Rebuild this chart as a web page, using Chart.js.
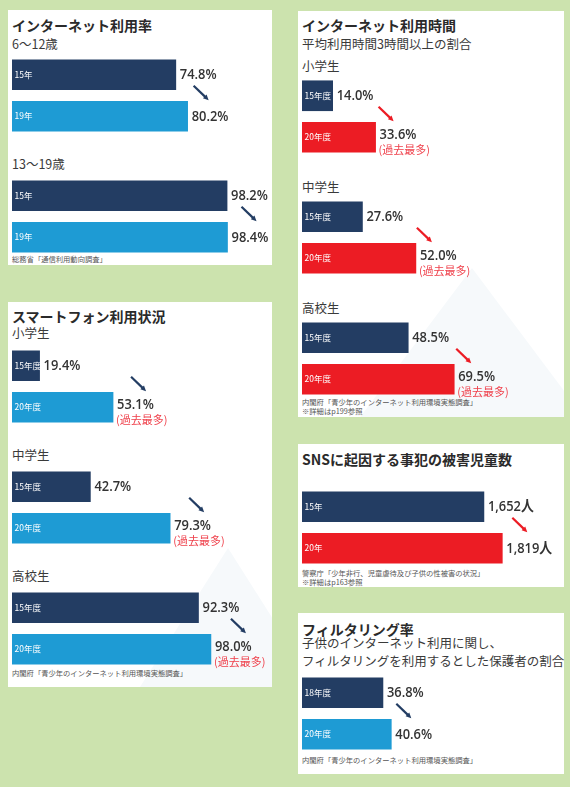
<!DOCTYPE html>
<html lang="ja">
<head>
<meta charset="utf-8">
<script src="https://cdn.jsdelivr.net/npm/chart.js@4"></script>
<style>
html, body { margin: 0; padding: 0; }
body { width: 570px; height: 787px; background: #cce3ae; position: relative; overflow: hidden;
  font-family: "Noto Sans CJK JP", sans-serif; color: #333; }
.panel { position: absolute; background: #fff; overflow: hidden; }
.mtn { position: absolute; background: #f6f9fb; clip-path: polygon(50% 0, 100% 100%, 0 100%); }
.t { position: absolute; white-space: nowrap; line-height: 1; }
.title { font-size: 14px; font-weight: bold; color: #2a2a2a; }
.head { font-size: 12.5px; color: #3a3a3a; }
.src { font-size: 7.3px; color: #555; }
canvas { position: absolute; }
</style>
</head>
<body>
<div class="panel" style="left:8px;top:10px;width:264px;height:255px;"></div>
<div class="panel" style="left:8px;top:302px;width:264px;height:385px;">
  <div class="mtn" style="left:125px;top:246px;width:190px;height:150px;"></div>
</div>
<div class="panel" style="left:298px;top:11px;width:266px;height:406px;">
  <div class="mtn" style="left:54px;top:257px;width:240px;height:160px;"></div>
</div>
<div class="panel" style="left:298px;top:444px;width:266px;height:143px;"></div>
<div class="panel" style="left:298px;top:613px;width:266px;height:161px;"></div>

<div class="t title" style="left:12px;top:18px;">インターネット利用率</div>
<div class="t head" style="left:12px;top:38px;">6〜12歳</div>
<div class="t head" style="left:12px;top:158px;">13〜19歳</div>
<div class="t src" style="left:12px;top:256px;">総務省「通信利用動向調査」</div>

<div class="t title" style="left:12px;top:309px;">スマートフォン利用状況</div>
<div class="t head" style="left:12px;top:327px;">小学生</div>
<div class="t head" style="left:12px;top:449px;">中学生</div>
<div class="t head" style="left:12px;top:570px;">高校生</div>
<div class="t src" style="left:12px;top:670px;">内閣府「青少年のインターネット利用環境実態調査」</div>

<div class="t title" style="left:302px;top:18px;">インターネット利用時間</div>
<div class="t head" style="left:302px;top:38px;">平均利用時間3時間以上の割合</div>
<div class="t head" style="left:302px;top:60px;">小学生</div>
<div class="t head" style="left:302px;top:181px;">中学生</div>
<div class="t head" style="left:302px;top:302px;">高校生</div>
<div class="t src" style="left:302px;top:399px;">内閣府「青少年のインターネット利用環境実態調査」</div>
<div class="t src" style="left:302px;top:408px;">※詳細はp199参照</div>

<div class="t title" style="left:302px;top:452px;">SNSに起因する事犯の被害児童数</div>
<div class="t src" style="left:302px;top:570px;">警察庁「少年非行、児童虐待及び子供の性被害の状況」</div>
<div class="t src" style="left:302px;top:579px;">※詳細はp163参照</div>

<div class="t title" style="left:302px;top:622px;">フィルタリング率</div>
<div class="t head" style="left:302px;top:637px;">子供のインターネット利用に関し、</div>
<div class="t head" style="left:302px;top:655px;">フィルタリングを利用するとした保護者の割合</div>
<div class="t src" style="left:302px;top:757px;">内閣府「青少年のインターネット利用環境実態調査」</div>

<canvas id="rateA" width="258" height="97" style="left:12px;top:54px;"></canvas>
<canvas id="rateB" width="258" height="97" style="left:12px;top:175px;"></canvas>
<canvas id="phoneA" width="258" height="97" style="left:12px;top:345px;"></canvas>
<canvas id="phoneB" width="258" height="97" style="left:12px;top:466px;"></canvas>
<canvas id="phoneC" width="258" height="97" style="left:12px;top:587px;"></canvas>
<canvas id="hoursA" width="260" height="97" style="left:302px;top:75px;"></canvas>
<canvas id="hoursB" width="260" height="97" style="left:302px;top:196px;"></canvas>
<canvas id="hoursC" width="260" height="97" style="left:302px;top:317px;"></canvas>
<canvas id="sns" width="260" height="97" style="left:302px;top:486px;"></canvas>
<canvas id="filter" width="260" height="97" style="left:302px;top:672px;"></canvas>

<script>
// データ
const rateYears = ['15年', '19年'];
const rateAge6to12 = [74.8, 80.2];
const rateAge13to19 = [98.2, 98.4];

const phoneYears = ['15年度', '20年度'];
const phoneElementary = [19.4, 53.1];
const phoneJunior = [42.7, 79.3];
const phoneHigh = [92.3, 98.0];

const hoursYears = ['15年度', '20年度'];
const hoursElementary = [14.0, 33.6];
const hoursJunior = [27.6, 52.0];
const hoursHigh = [48.5, 69.5];

const snsYears = ['15年', '20年'];
const snsVictims = [1652, 1819];

const filterYears = ['18年度', '20年度'];
const filterRate = [36.8, 40.6];

const recordNote = '(過去最多)';

const NAVY = '#233d63';
const BLUE = '#1e9bd4';
const RED = '#ec1c24';
const NOTE_RED = '#ef404b';
const FONT = '"Noto Sans CJK JP", sans-serif';

function drawArrow(ctx, x1, y1, x2, y2, color) {
  const ang = Math.atan2(y2 - y1, x2 - x1);
  const head = 6;
  ctx.save();
  ctx.strokeStyle = color;
  ctx.fillStyle = color;
  ctx.lineWidth = 2.2;
  ctx.beginPath();
  ctx.moveTo(x1, y1);
  ctx.lineTo(x2 - Math.cos(ang) * head * 0.8, y2 - Math.sin(ang) * head * 0.8);
  ctx.stroke();
  ctx.beginPath();
  ctx.moveTo(x2, y2);
  ctx.lineTo(x2 - head * Math.cos(ang - 0.45), y2 - head * Math.sin(ang - 0.45));
  ctx.lineTo(x2 - head * Math.cos(ang + 0.45), y2 - head * Math.sin(ang + 0.45));
  ctx.closePath();
  ctx.fill();
  ctx.restore();
}

// 棒の中の年ラベル、数値、(過去最多)、矢印
const barText = {
  id: 'barText',
  afterDatasetsDraw(chart, args, opts) {
    const ctx = chart.ctx;
    const bars = chart.getDatasetMeta(0).data;
    const values = chart.data.datasets[0].data;
    const pts = bars.map(b => b.getProps(['x', 'y', 'base', 'height'], true));
    const left = chart.chartArea.left;
    ctx.save();
    ctx.textBaseline = 'middle';
    ctx.textAlign = 'left';
    pts.forEach((p, i) => {
      ctx.fillStyle = '#fff';
      ctx.font = '8.5px ' + FONT;
      ctx.fillText(chart.data.labels[i], Math.max(p.base, left) + 2.5, p.y);
      const hasNote = opts.note && i === 1;
      const txt = opts.unit === '人'
        ? values[i].toLocaleString('en-US') + '人'
        : values[i].toFixed(1) + '%';
      // 数値は少し縦長に
      ctx.save();
      ctx.translate(p.x + 4, hasNote ? p.y - 2.5 : p.y);
      ctx.scale(0.86, 1);
      ctx.fillStyle = '#333';
      ctx.font = '600 15px "Open Sans", ' + FONT;
      ctx.fillText(txt, 0, 0);
      ctx.restore();
      if (hasNote) {
        ctx.fillStyle = NOTE_RED;
        ctx.font = '11px ' + FONT;
        ctx.fillText(recordNote, p.x + 3, p.y + 13);
      }
    });
    const a = pts[0], b = pts[1];
    const x0 = b.x + opts.arrowDx;
    drawArrow(ctx, x0, a.y + a.height / 2 - 4, x0 + 15, b.y - b.height / 2 - 1, opts.arrowColor);
    ctx.restore();
  }
};

function barPair(id, labels, values, colors, o) {
  return new Chart(document.getElementById(id), {
    type: 'bar',
    data: {
      labels: labels,
      datasets: [{ data: values, backgroundColor: colors, barThickness: 30, borderWidth: 0 }]
    },
    options: {
      indexAxis: 'y',
      responsive: false,
      animation: false,
      layout: { padding: { top: 0, bottom: 14, left: 0, right: 0 } },
      scales: {
        x: { display: false, min: o.min, max: o.max },
        y: { display: false }
      },
      plugins: { legend: { display: false }, tooltip: { enabled: false }, barText: o }
    },
    plugins: [barText]
  });
}

// インターネット利用率
barPair('rateA', rateYears, rateAge6to12, [NAVY, BLUE], { min: 0, max: 117.8, unit: '%', note: false, arrowColor: NAVY, arrowDx: 6 });
barPair('rateB', rateYears, rateAge13to19, [NAVY, BLUE], { min: 0, max: 117.8, unit: '%', note: false, arrowColor: NAVY, arrowDx: 14 });

// スマートフォン利用状況
barPair('phoneA', phoneYears, phoneElementary, [NAVY, BLUE], { min: 6.74, max: 125.1, unit: '%', note: true, arrowColor: NAVY, arrowDx: 18 });
barPair('phoneB', phoneYears, phoneJunior, [NAVY, BLUE], { min: 6.74, max: 125.1, unit: '%', note: true, arrowColor: NAVY, arrowDx: 19 });
barPair('phoneC', phoneYears, phoneHigh, [NAVY, BLUE], { min: 6.74, max: 125.1, unit: '%', note: true, arrowColor: NAVY, arrowDx: 20 });

// インターネット利用時間
barPair('hoursA', hoursYears, hoursElementary, [NAVY, RED], { min: 0, max: 118.7, unit: '%', note: true, arrowColor: RED, arrowDx: 3 });
barPair('hoursB', hoursYears, hoursJunior, [NAVY, RED], { min: 0, max: 118.7, unit: '%', note: true, arrowColor: RED, arrowDx: 1 });
barPair('hoursC', hoursYears, hoursHigh, [NAVY, RED], { min: 0, max: 118.7, unit: '%', note: true, arrowColor: RED, arrowDx: 2 });

// SNS 被害児童数
barPair('sns', snsYears, snsVictims, [NAVY, RED], { min: 0, max: 2361, unit: '人', note: false, arrowColor: RED, arrowDx: 10 });

// フィルタリング率
barPair('filter', filterYears, filterRate, [NAVY, BLUE], { min: 0, max: 118.2, unit: '%', note: false, arrowColor: NAVY, arrowDx: 5 });
</script>
</body>
</html>
